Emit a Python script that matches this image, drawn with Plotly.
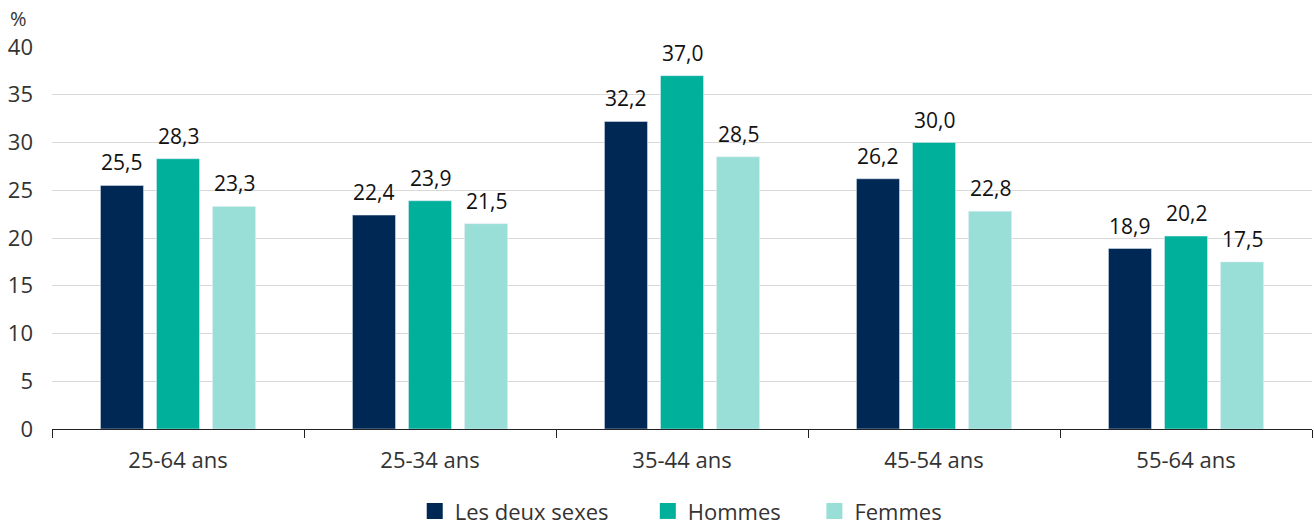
import plotly.graph_objects as go

categories = ["25-64 ans", "25-34 ans", "35-44 ans", "45-54 ans", "55-64 ans"]
les_deux_sexes = [25.5, 22.4, 32.2, 26.2, 18.9]
hommes = [28.3, 23.9, 37.0, 30.0, 20.2]
femmes = [23.3, 21.5, 28.5, 22.8, 17.5]
series_names = ["Les deux sexes", "Hommes", "Femmes"]
colors = ["#002855", "#00B09B", "#9ADFD7"]
y_ticks = [0, 5, 10, 15, 20, 25, 30, 35, 40]

W, H = 1314, 525
ML, MR, MT, MB = 52, 2, 47, 96
BARGAP = 0.333
GROUPGAP = 0.232

def fmt(v):
    return f"{v:.1f}".replace(".", ",")

fig = go.Figure()
all_series = [les_deux_sexes, hommes, femmes]
for name, vals, col in zip(series_names, all_series, colors):
    fig.add_trace(go.Bar(x=categories, y=vals, name=name, marker_color=col,
                         showlegend=False))
# legend entries with larger square symbols
legend_labels = [series_names[0] + "\u00a0" * 6, series_names[1] + "\u00a0" * 5,
                 series_names[2]]
for name, col in zip(legend_labels, colors):
    fig.add_trace(go.Scatter(x=[None], y=[None], mode="markers", name=name,
                             marker=dict(symbol="square", size=17, color=col)))

# value labels
cat_px = (W - ML - MR) / len(categories)
slot_px = cat_px * (1 - BARGAP) / len(all_series)
annotations = []
for i, vals in enumerate(all_series):
    for c, v in zip(categories, vals):
        annotations.append(dict(x=c, y=v, xref="x", yref="y", text=fmt(v),
                                showarrow=False, xanchor="center", yanchor="middle",
                                xshift=(i - 1) * slot_px, yshift=23,
                                font=dict(size=21, color="#111111")))
annotations.append(dict(text="%", xref="paper", yref="paper", x=-0.035, y=1.0,
                        xanchor="left", yanchor="middle", showarrow=False,
                        font=dict(size=20, color="#333333"), yshift=29))

fig.update_layout(
    width=W, height=H,
    margin=dict(l=ML, r=MR, t=MT, b=MB, autoexpand=False),
    barmode="group", bargap=BARGAP, bargroupgap=GROUPGAP,
    plot_bgcolor="white", paper_bgcolor="white",
    font=dict(family="Open Sans", size=21, color="#333333"),
    showlegend=True,
    legend=dict(orientation="h", x=0.499, xanchor="center", y=-0.215, yanchor="middle",
                font=dict(size=22, color="#333333"), itemwidth=30, traceorder="normal"),
    xaxis=dict(showline=True, linecolor="#222222", linewidth=1.2, ticks="outside",
               tickson="boundaries", ticklen=8, tickcolor="#222222",
               ticklabelstandoff=11,
               tickfont=dict(size=22, color="#333333"), automargin=False),
    yaxis=dict(range=[0, 40], tickvals=y_ticks, showgrid=True, gridcolor="#d9d9d9",
               gridwidth=1, zeroline=False, ticklabelstandoff=18, automargin=False,
               tickfont=dict(size=22, color="#333333")),
    annotations=annotations,
)

fig.write_html("out.html", config={"displayModeBar": False},
               post_script="document.body.style.margin='0';document.body.style.overflow='hidden';")
